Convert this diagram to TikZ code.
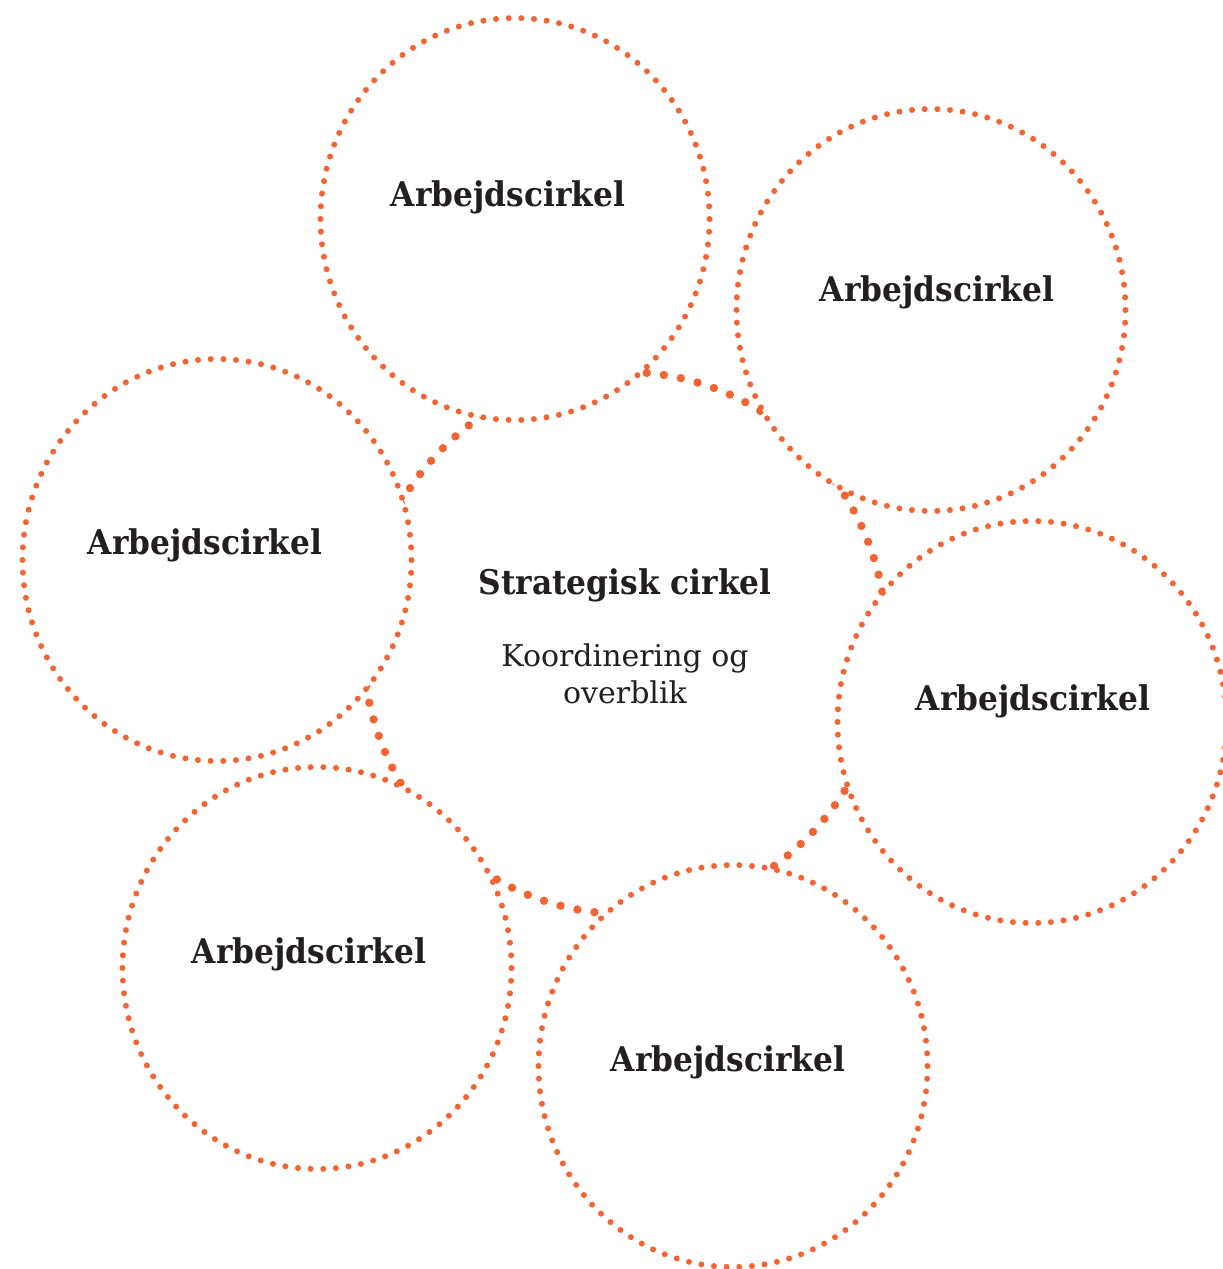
\documentclass[tikz,border=0pt]{standalone}
\usepackage{fontspec}
\setmainfont{DejaVu Serif}[BoldFeatures={FakeStretch=0.92}]
\usetikzlibrary{shapes.geometric}
\definecolor{dotorange}{RGB}{242,101,50}
\definecolor{inktext}{RGB}{35,31,32}
\tikzset{
  workcircle/.style={ellipse, draw=dotorange, fill=white, line width=3pt, line cap=round,
    dash pattern=on 0pt off 6.34pt, minimum width=194.5pt, minimum height=201pt, inner sep=0pt},
  stratcircle/.style={ellipse, draw=dotorange, line width=4.2pt, line cap=round,
    dash pattern=on 0pt off 8.63pt, minimum width=262pt, minimum height=271pt, inner sep=0pt},
  worklabel/.style={text=inktext, font=\fontsize{17}{20}\selectfont\bfseries},
  notelabel/.style={text=inktext, align=center, font=\fontsize{15}{18.5}\selectfont}
}
\begin{document}
\begin{tikzpicture}[x=0.5pt, y=-0.5pt]
  \useasboundingbox (0,0) rectangle (1222,1269);
  % strategisk cirkel
  \node[stratcircle] (strat) at (625,643) {};
  % arbejdscirkler
  \node[workcircle] (top) at (515,219) {};
  \node[workcircle] (topright) at (931,310) {};
  \node[workcircle] (left) at (217,560) {};
  \node[workcircle] (right) at (1032,722) {};
  \node[workcircle] (botleft) at (317,968) {};
  \node[workcircle] (bottom) at (733,1066) {};
  % tekster
  \node[worklabel] (toplabel) at (508,197) {Arbejdscirkel};
  \node[worklabel] (toprightlabel) at (937,292) {Arbejdscirkel};
  \node[worklabel] (leftlabel) at (205,545) {Arbejdscirkel};
  \node[worklabel] (rightlabel) at (1033,701) {Arbejdscirkel};
  \node[worklabel] (botleftlabel) at (309,954) {Arbejdscirkel};
  \node[worklabel] (bottomlabel) at (728,1062) {Arbejdscirkel};
  \node[worklabel] (stratlabel) at (625,585) {Strategisk cirkel};
  \node[notelabel] (stratnote) at (625,674) {Koordinering og\\overblik};
\end{tikzpicture}
\end{document}
